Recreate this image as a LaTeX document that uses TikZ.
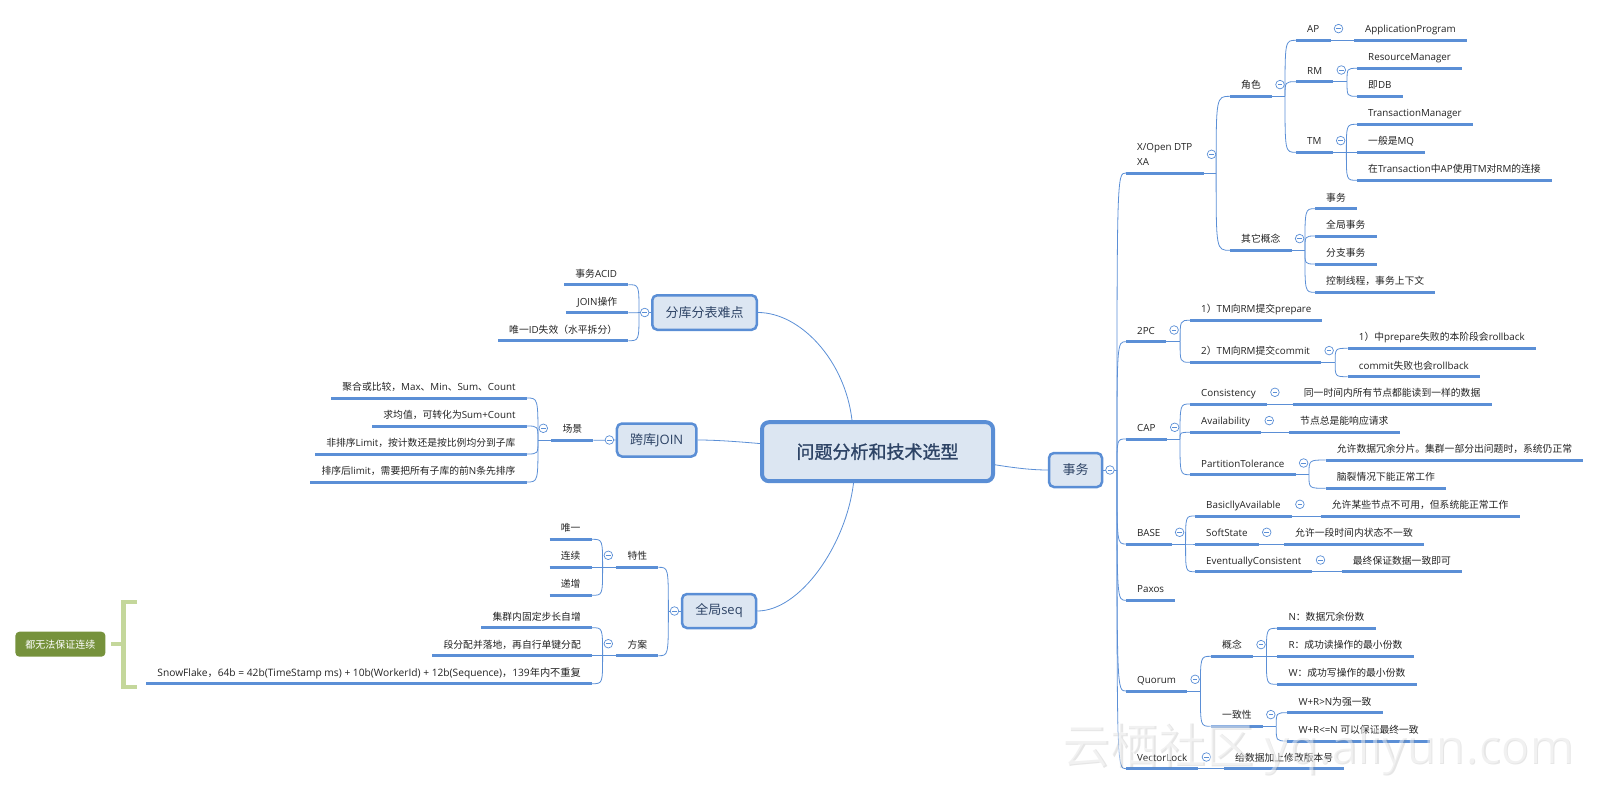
\documentclass[tikz,border=0pt]{standalone}
\usepackage{fontspec}
\setmainfont{Open Sans}
\newfontfamily\latfont{Open Sans}
\newfontfamily\cjkfont{Noto Sans CJK SC}
\newfontfamily\cjkboldfont{Noto Sans CJK SC}[FakeBold=1.2]
\newcommand\cjkswitch{\cjkfont}
\newcommand\latswitch{\latfont}
\XeTeXinterchartokenstate=1
\newcount\cjkcnt
\cjkcnt="3000
\loop
  \XeTeXcharclass\cjkcnt=7
  \ifnum\cjkcnt<"9FFF \advance\cjkcnt by 1
\repeat
\cjkcnt="FF00
\loop
  \XeTeXcharclass\cjkcnt=7
  \ifnum\cjkcnt<"FFEF \advance\cjkcnt by 1
\repeat
\XeTeXinterchartoks 0 7 = {\cjkswitch}
\XeTeXinterchartoks 4095 7 = {\cjkswitch}
\XeTeXinterchartoks 7 0 = {\latswitch}
\XeTeXinterchartoks 4095 0 = {\latswitch}
\usetikzlibrary{calc,backgrounds}
\definecolor{lnblue}{HTML}{5B8FD6}
\definecolor{bxfill}{HTML}{DCE6F2}
\definecolor{bxdraw}{HTML}{5A8ED5}
\definecolor{txt}{HTML}{222222}
\definecolor{bxtxt}{HTML}{2E4466}
\definecolor{olivebx}{HTML}{76923C}
\definecolor{lgreen}{HTML}{C4D79B}
\newcommand\lff{\fontsize{9.8}{12}\selectfont}
\newcommand\bxf{\fontsize{13}{15}\selectfont}
\begin{document}
\begin{tikzpicture}[x=1pt,y=-1pt,
  lf/.style={inner xsep=11pt, inner ysep=5pt, text height=7.5pt, text depth=2.5pt, font=\lff, text=txt},
  rt/.style={lf, anchor=south west},
  lt/.style={lf, anchor=south east},
  conn/.style={draw=lnblue, line width=0.8pt},
  uline/.style={draw=lnblue, line width=3pt},
  bx/.style={rounded corners=5pt, draw=bxdraw, fill=bxfill, line width=2.5pt, text=bxtxt, font=\bxf, inner sep=0pt},
  rootbx/.style={rounded corners=7pt, draw=bxdraw, fill=bxfill, line width=4pt, text=bxtxt, inner sep=0pt,
     font={\fontsize{18}{20}\selectfont\let\cjkswitch\cjkboldfont}, minimum width=231pt, minimum height=59pt},
  mn/.style={circle, draw=lnblue, fill=white, line width=0.7pt, minimum size=8.6pt, inner sep=0pt,
     path picture={\draw[lnblue, line width=0.7pt] ([xshift=-2.3pt]path picture bounding box.center) -- ([xshift=2.3pt]path picture bounding box.center);}},
  sumb/.style={rounded corners=4pt, fill=olivebx, text=white, minimum width=90pt, minimum height=25pt, inner sep=0pt, font=\fontsize{10}{12}\selectfont},
  brk/.style={draw=lgreen, line width=4.5pt},
]
\useasboundingbox (0,0) rectangle (1609,785);

% ---------- boxes ----------
\node[rootbx] (root) at (877.5,451.7) {问题分析和技术选型};
\node[bx, minimum width=53pt, minimum height=34pt] (sw) at (1075.5,470) {事务};
\node[bx, minimum width=104.5pt, minimum height=34.5pt] (fk) at (704.5,312.5) {分库分表难点};
\node[bx, minimum width=79.5pt, minimum height=33pt] (kk) at (656.7,440) {跨库JOIN};
\node[bx, minimum width=74pt, minimum height=34pt] (gs) at (719,611) {全局seq};

% ---------- right side ----------
\node[rt] (xa) at (1126,173) {{\fontsize{9.8}{14.4}\selectfont\begin{tabular}[b]{@{}l@{}}X/Open DTP\\XA\end{tabular}}};
\node[rt] (pc) at (1126,341.7) {2PC};
\node[rt] (cap) at (1126,439) {CAP};
\node[rt] (base) at (1126,544) {BASE};
\node[rt] (paxos) at (1126,600.3) {Paxos};
\node[rt] (quorum) at (1126,691) {Quorum};
\node[rt] (vl) at (1126,768.7) {VectorLock};

\node[rt] (js) at (1230,96.3) {角色};
\node[rt] (qt) at (1230,250.3) {其它概念};
\node[rt] (ap) at (1296,40.3) {AP};
\node[rt] (rm) at (1296,81.7) {RM};
\node[rt] (tm) at (1296,152.3) {TM};
\node[rt] (apv) at (1354,40.3) {ApplicationProgram};
\node[rt] (rm1) at (1357,68.3) {ResourceManager};
\node[rt] (rm2) at (1357,96.3) {即DB};
\node[rt] (tm1) at (1357,124.3) {TransactionManager};
\node[rt] (tm2) at (1357,152.3) {一般是MQ};
\node[rt] (tm3) at (1357,180.3) {在Transaction中AP使用TM对RM的连接};
\node[rt] (q1) at (1315,208.7) {事务};
\node[rt] (q2) at (1315,236) {全局事务};
\node[rt] (q3) at (1315,264) {分支事务};
\node[rt] (q4) at (1315,292.3) {控制线程，事务上下文};

\node[rt] (p1) at (1190,320.3) {1）TM向RM提交prepare};
\node[rt] (p2) at (1190,362.3) {2）TM向RM提交commit};
\node[rt] (p21) at (1347.7,348.3) {1）中prepare失败的本阶段会rollback};
\node[rt] (p22) at (1347.7,376.7) {commit失败也会rollback};

\node[rt] (c1) at (1190,404) {Consistency};
\node[rt] (c2) at (1190,432.3) {Availability};
\node[rt] (c3) at (1190,474.7) {PartitionTolerance};
\node[rt] (c1v) at (1292.7,404) {同一时间内所有节点都能读到一样的数据};
\node[rt] (c2v) at (1289,432.3) {节点总是能响应请求};
\node[rt] (c31) at (1325.7,460) {允许数据冗余分片。集群一部分出问题时，系统仍正常};
\node[rt] (c32) at (1325.7,488.3) {脑裂情况下能正常工作};

\node[rt] (b1) at (1195,516) {BasicllyAvailable};
\node[rt] (b2) at (1195,544) {SoftState};
\node[rt] (b3) at (1195,571.7) {EventuallyConsistent};
\node[rt] (b1v) at (1320.7,516) {允许某些节点不可用，但系统能正常工作};
\node[rt] (b2v) at (1284,544) {允许一段时间内状态不一致};
\node[rt] (b3v) at (1341.7,571.7) {最终保证数据一致即可};

\node[rt] (qa) at (1211,656.3) {概念};
\node[rt] (qb) at (1211,726.3) {一致性};
\node[rt] (qa1) at (1277.3,628.3) {N：数据冗余份数};
\node[rt] (qa2) at (1277.3,656.3) {R：成功读操作的最小份数};
\node[rt] (qa3) at (1277.3,684.3) {W：成功写操作的最小份数};
\node[rt] (qb1) at (1287.3,712.7) {W+R>N为强一致};
\node[rt] (qb2) at (1287.3,741) {W+R<=N 可以保证最终一致};
\node[rt] (vlv) at (1224,768.7) {给数据加上修改版本号};

% ---------- left side ----------
\node[lt] (f1) at (628.3,284.7) {事务ACID};
\node[lt] (f2) at (628.3,312.7) {JOIN操作};
\node[lt] (f3) at (628.3,340.7) {唯一ID失效（水平拆分）};
\node[lt] (cj) at (593.3,440.3) {场景};
\node[lt] (k1) at (526.7,398) {聚合或比较，Max、Min、Sum、Count};
\node[lt] (k2) at (526.7,426) {求均值，可转化为Sum+Count};
\node[lt] (k3) at (526.7,454) {非排序Limit，按计数还是按比例均分到子库};
\node[lt] (k4) at (526.7,482) {排序后limit，需要把所有子库的前N条先排序};
\node[lt] (tx) at (658.3,567.3) {特性};
\node[lt] (fa) at (658.3,655.7) {方案};
\node[lt] (t1) at (591.7,539.3) {唯一};
\node[lt] (t2) at (591.7,567.3) {连续};
\node[lt] (t3) at (591.7,595.3) {递增};
\node[lt] (s1) at (592,627.7) {集群内固定步长自增};
\node[lt] (s2) at (592,655.7) {段分配并落地，再自行单键分配};
\node[lt, font=\fontsize{10.2}{12}\selectfont] (s3) at (592,683.7) {SnowFlake，64b = 42b(TimeStamp ms) + 10b(WorkerId) + 12b(Sequence)，139年内不重复};

% ---------- summary ----------
\node[sumb] (sum) at (60.4,644.2) {都无法保证连续};
\draw[brk] (137,602) -- (123.4,602) -- (123.4,687) -- (137,687);
\draw[brk] (sum.east) ++(5.6,0) -- (123.4,644.2);

% ---------- connectors ----------
\begin{scope}[on background layer]
\draw[conn] (root.center) .. controls (950,452) and (1000,470) .. (sw.west);
\draw[conn] (fk.east) .. controls +(42,0) and (845,360) .. ($(root.north)+(-25.5,0)$);
\draw[conn] (kk.east) .. controls (740,440) and (790,448) .. (root.center);
\draw[conn] (gs.east) .. controls +(43,0) and (846,545) .. ($(root.south)+(-24,0)$);

\draw[conn] (sw.east) -- ++(13.7,0) coordinate (swj);
\foreach \c in {xa,pc,cap,base,paxos,quorum,vl}
  \draw[conn] (swj) .. controls (swj |- \c.south west) .. (\c.south west);
\draw[conn] (xa.south east) -- ++(12.6,0) coordinate (xaj);
\foreach \c in {js,qt}
  \draw[conn] (xaj) .. controls (xaj |- \c.south west) .. (\c.south west);
\draw[conn] (js.south east) -- ++(13,0) coordinate (jsj);
\foreach \c in {ap,rm,tm}
  \draw[conn] (jsj) .. controls (jsj |- \c.south west) .. (\c.south west);
\draw[conn] (ap.south east) -- (apv.south west);
\draw[conn] (rm.south east) -- ++(13.7,0) coordinate (rmj);
\foreach \c in {rm1,rm2}
  \draw[conn] (rmj) .. controls (rmj |- \c.south west) .. (\c.south west);
\draw[conn] (tm.south east) -- ++(13.7,0) coordinate (tmj);
\foreach \c in {tm1,tm2,tm3}
  \draw[conn] (tmj) .. controls (tmj |- \c.south west) .. (\c.south west);
\draw[conn] (qt.south east) -- ++(13.3,0) coordinate (qtj);
\foreach \c in {q1,q2,q3,q4}
  \draw[conn] (qtj) .. controls (qtj |- \c.south west) .. (\c.south west);
\draw[conn] (pc.south east) -- ++(14,0) coordinate (pcj);
\foreach \c in {p1,p2}
  \draw[conn] (pcj) .. controls (pcj |- \c.south west) .. (\c.south west);
\draw[conn] (p2.south east) -- ++(14,0) coordinate (p2j);
\foreach \c in {p21,p22}
  \draw[conn] (p2j) .. controls (p2j |- \c.south west) .. (\c.south west);
\draw[conn] (cap.south east) -- ++(13.3,0) coordinate (capj);
\foreach \c in {c1,c2,c3}
  \draw[conn] (capj) .. controls (capj |- \c.south west) .. (\c.south west);
\draw[conn] (c1.south east) -- (c1v.south west);
\draw[conn] (c2.south east) -- (c2v.south west);
\draw[conn] (c3.south east) -- ++(13.3,0) coordinate (c3j);
\foreach \c in {c31,c32}
  \draw[conn] (c3j) .. controls (c3j |- \c.south west) .. (\c.south west);
\draw[conn] (base.south east) -- ++(14,0) coordinate (basej);
\foreach \c in {b1,b2,b3}
  \draw[conn] (basej) .. controls (basej |- \c.south west) .. (\c.south west);
\draw[conn] (b1.south east) -- (b1v.south west);
\draw[conn] (b2.south east) -- (b2v.south west);
\draw[conn] (b3.south east) -- (b3v.south west);
\draw[conn] (quorum.south east) -- ++(13.3,0) coordinate (quj);
\foreach \c in {qa,qb}
  \draw[conn] (quj) .. controls (quj |- \c.south west) .. (\c.south west);
\draw[conn] (qa.south east) -- ++(13.4,0) coordinate (qaj);
\foreach \c in {qa1,qa2,qa3}
  \draw[conn] (qaj) .. controls (qaj |- \c.south west) .. (\c.south west);
\draw[conn] (qb.south east) -- ++(13.4,0) coordinate (qbj);
\foreach \c in {qb1,qb2}
  \draw[conn] (qbj) .. controls (qbj |- \c.south west) .. (\c.south west);
\draw[conn] (vl.south east) -- (vlv.south west);

\draw[conn] (fk.west) -- ++(-12,0) coordinate (fkj);
\foreach \c in {f1,f2,f3}
  \draw[conn] (fkj) .. controls (fkj |- \c.south east) .. (\c.south east);
\draw[conn] (kk.west) -- (cj.south east);
\draw[conn] (cj.south west) -- ++(-13.3,0) coordinate (cjj);
\foreach \c in {k1,k2,k3,k4}
  \draw[conn] (cjj) .. controls (cjj |- \c.south east) .. (\c.south east);
\draw[conn] (gs.west) -- ++(-12.4,0) coordinate (gsj);
\foreach \c in {tx,fa}
  \draw[conn] (gsj) .. controls (gsj |- \c.south east) .. (\c.south east);
\draw[conn] (tx.south west) -- ++(-13.7,0) coordinate (txj);
\foreach \c in {t1,t2,t3}
  \draw[conn] (txj) .. controls (txj |- \c.south east) .. (\c.south east);
\draw[conn] (fa.south west) -- ++(-13.7,0) coordinate (faj);
\foreach \c in {s1,s2,s3}
  \draw[conn] (faj) .. controls (faj |- \c.south east) .. (\c.south east);
\end{scope}

% ---------- underlines ----------
\foreach \n in {xa,pc,cap,base,paxos,quorum,vl,js,qt,ap,rm,tm,apv,rm1,rm2,tm1,tm2,tm3,q1,q2,q3,q4,
  p1,p2,p21,p22,c1,c2,c3,c1v,c2v,c31,c32,b1,b2,b3,b1v,b2v,b3v,qa,qb,qa1,qa2,qa3,qb1,qb2,vlv,
  f1,f2,f3,cj,k1,k2,k3,k4,tx,fa,t1,t2,t3,s1,s2,s3}
  \draw[uline] (\n.south west) -- (\n.south east);

% ---------- collapse marks ----------
\node[mn] (mxa) at ($(xa.south east)+(8,-18.7)$) {};
\foreach \n in {js,ap,rm,tm,qt,pc,p2,cap,c1,c2,c3,base,b1,b2,b3,quorum,qa,qb,vl}
  \node[mn] (m\n) at ($(\n.south east)+(8,-11.7)$) {};
\foreach \n in {cj,tx,fa}
  \node[mn] (m\n) at ($(\n.south west)+(-8,-12)$) {};
\foreach \n in {fk,kk,gs}
  \node[mn] (m\n) at ($(\n.west)+(-6.3,0)$) {};
\node[mn] (msw) at ($(sw.east)+(6.7,0)$) {};

% ---------- watermark ----------
\node[text=gray, opacity=0.2, font=\fontsize{48}{50}\selectfont] (wms) at (1319.3,750.3) {云栖社区 yq.aliyun.com};
\node[text=white, opacity=0.45, font=\fontsize{48}{50}\selectfont] (wm) at (1318,749) {云栖社区 yq.aliyun.com};
\end{tikzpicture}
\end{document}
